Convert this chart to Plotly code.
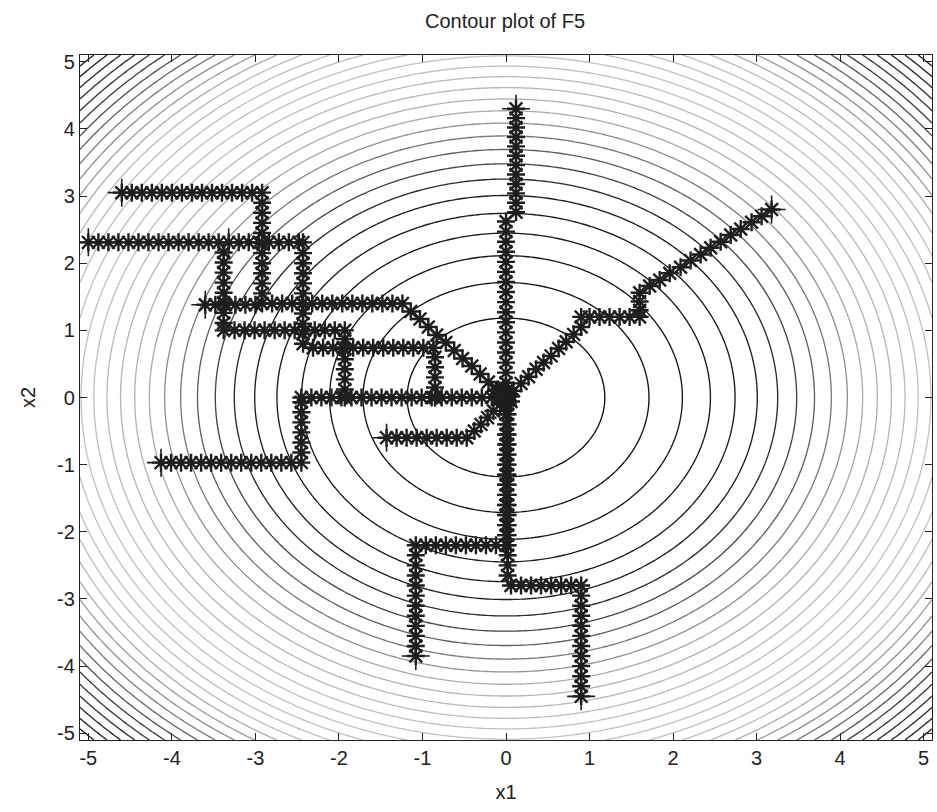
import numpy as np
import plotly.graph_objects as go

# ---- objective F5 sampled on the plotting grid ----
grid = np.linspace(-5.1, 5.1, 256)
X1, X2 = np.meshgrid(grid, grid)
F5 = X1 ** 2 + X2 ** 2

level_start = 1.4
level_step = 1.53
level_end = 51.0

# grey levels used for the contour lines (low -> high function value)
contour_greys = [
    [0.00, "#101010"],
    [0.18, "#202020"],
    [0.27, "#6a6a6a"],
    [0.36, "#afafaf"],
    [0.50, "#c2c2c2"],
    [0.64, "#bebebe"],
    [0.76, "#888888"],
    [0.86, "#444444"],
    [1.00, "#222222"],
]

# ---- search trajectories (marker positions) ----
path_a_x = [0.12] * 12 + [0.0] * 18
path_a_y = [4.3, 4.16, 4.02, 3.88, 3.74, 3.6, 3.46, 3.32, 3.18, 3.04, 2.9, 2.76,
            2.62, 2.47, 2.32, 2.17, 2.02, 1.87, 1.72, 1.57, 1.42, 1.27, 1.12, 0.97,
            0.82, 0.67, 0.52, 0.37, 0.22, 0.07]

path_b_x = [3.18, 3.06, 2.94, 2.81, 2.69, 2.57, 2.45, 2.33, 2.21, 2.09, 1.96, 1.84,
            1.72, 1.60, 1.60, 1.60, 1.60, 1.48, 1.36, 1.24, 1.12, 1.00, 0.90, 0.90,
            0.81, 0.72, 0.63, 0.54, 0.45, 0.36, 0.27, 0.18, 0.09]
path_b_y = [2.80, 2.70, 2.61, 2.51, 2.42, 2.32, 2.23, 2.13, 2.04, 1.94, 1.85, 1.75,
            1.66, 1.56, 1.43, 1.30, 1.20, 1.20, 1.20, 1.20, 1.20, 1.20, 1.20, 1.05,
            0.94, 0.83, 0.73, 0.62, 0.52, 0.42, 0.31, 0.21, 0.10]

path_c_x = [0.9] * 12 + [0.78, 0.66, 0.54, 0.42, 0.30, 0.18, 0.06] + [0.02] * 18
path_c_y = [-4.45, -4.3, -4.15, -4.0, -3.85, -3.7, -3.55, -3.4, -3.25, -3.1, -2.95, -2.8,
            -2.8, -2.8, -2.8, -2.8, -2.8, -2.8, -2.8,
            -2.65, -2.5, -2.35, -2.2, -2.05, -1.9, -1.75, -1.6, -1.45, -1.3, -1.15,
            -1.0, -0.85, -0.7, -0.55, -0.4, -0.25, -0.1]

path_d_x = [-1.08] * 12 + [-0.96, -0.84, -0.72, -0.6, -0.48, -0.36, -0.24, -0.12, 0.0] + [0.0] * 14
path_d_y = [-3.85, -3.7, -3.55, -3.4, -3.25, -3.1, -2.95, -2.8, -2.65, -2.5, -2.35, -2.2,
            -2.2, -2.2, -2.2, -2.2, -2.2, -2.2, -2.2, -2.2, -2.2,
            -2.05, -1.9, -1.75, -1.6, -1.45, -1.3, -1.15, -1.0, -0.85, -0.7, -0.55,
            -0.4, -0.25, -0.1]

path_e_x = [-1.43, -1.31, -1.19, -1.07, -0.95, -0.83, -0.71, -0.59, -0.47,
            -0.38, -0.30, -0.22, -0.15, -0.07]
path_e_y = [-0.6] * 9 + [-0.5, -0.4, -0.3, -0.2, -0.1]

path_f_x = [-4.13, -4.01, -3.89, -3.77, -3.65, -3.53, -3.41, -3.29, -3.17, -3.05, -2.93,
            -2.81, -2.69, -2.57, -2.45] + [-2.45] * 7 + [
            -2.33, -2.21, -2.09, -1.97, -1.85, -1.73, -1.61, -1.49, -1.37, -1.25, -1.13,
            -1.01, -0.89, -0.77, -0.65, -0.53, -0.41, -0.29, -0.17, -0.05]
path_f_y = [-0.97] * 15 + [-0.82, -0.67, -0.52, -0.37, -0.22, -0.07, 0.0] + [0.0] * 20

path_g_x = [-4.6, -4.48, -4.36, -4.24, -4.12, -4.0, -3.88, -3.76, -3.64, -3.52, -3.4,
            -3.28, -3.16, -3.04, -2.92] + [-2.92] * 11 + [
            -2.8, -2.68, -2.56, -2.44, -2.32, -2.2, -2.08, -1.96, -1.84, -1.72, -1.6,
            -1.48, -1.36, -1.24,
            -1.14, -1.03, -0.93, -0.83, -0.72, -0.62, -0.52, -0.41, -0.31, -0.21, -0.1]
path_g_y = [3.05] * 15 + [2.9, 2.75, 2.6, 2.45, 2.3, 2.15, 2.0, 1.85, 1.7, 1.55, 1.4] + [
            1.4] * 14 + [1.28, 1.17, 1.05, 0.93, 0.82, 0.7, 0.58, 0.47, 0.35, 0.23, 0.12]

path_h_x = [-5.0, -4.88, -4.76, -4.64, -4.52, -4.4, -4.28, -4.16, -4.04, -3.92, -3.8,
            -3.68, -3.56, -3.44] + [-3.38] * 9 + [
            -3.25, -3.13, -3.01, -2.89, -2.77, -2.65, -2.53, -2.41, -2.29, -2.17, -2.05,
            -1.93] + [-1.93] * 7
path_h_y = [2.31] * 14 + [2.16, 2.01, 1.86, 1.71, 1.56, 1.41, 1.26, 1.11, 1.0] + [
            1.0] * 12 + [0.87, 0.72, 0.57, 0.42, 0.27, 0.12, 0.0]

path_i_x = [-3.6, -3.48, -3.36, -3.24, -3.12, -3.0]
path_i_y = [1.38] * 6

path_j_x = [-3.32, -3.2, -3.08, -2.96, -2.84, -2.72, -2.6, -2.48, -2.43] + [-2.43] * 10 + [
            -2.31, -2.19, -2.07, -1.95, -1.83, -1.71, -1.59, -1.47, -1.35, -1.23, -1.11,
            -0.99, -0.87] + [-0.85] * 5
path_j_y = [2.31] * 9 + [2.15, 2.0, 1.85, 1.7, 1.55, 1.4, 1.25, 1.1, 0.95, 0.8] + [
            0.74] * 13 + [0.6, 0.45, 0.3, 0.15, 0.0]

# final iterates gathered around the minimum
final_x = [0.0, 0.04, -0.04, 0.06, -0.08, -0.12, 0.02, -0.03, 0.05, -0.1, 0.0, -0.06]
final_y = [0.0, 0.05, -0.04, -0.06, 0.06, 0.1, 0.12, 0.15, 0.02, -0.02, -0.12, 0.02]

paths = [
    (path_a_x, path_a_y), (path_b_x, path_b_y), (path_c_x, path_c_y),
    (path_d_x, path_d_y), (path_e_x, path_e_y), (path_f_x, path_f_y),
    (path_g_x, path_g_y), (path_h_x, path_h_y), (path_i_x, path_i_y),
    (path_j_x, path_j_y),
]

tick_vals = [-5, -4, -3, -2, -1, 0, 1, 2, 3, 4, 5]
tick_text = ["-5", "-4", "-3", "-2", "-1", "0", "1", "2", "3", "4", "5"]

ink = "#1e1e1e"
font_family = "Liberation Sans, Arial, sans-serif"

fig = go.Figure()

fig.add_trace(go.Contour(
    x=grid, y=grid, z=F5,
    contours=dict(coloring="lines", start=level_start, end=level_end, size=level_step),
    colorscale=contour_greys, zmin=0, zmax=50, zauto=False,
    line=dict(width=1.35, smoothing=0),
    showscale=False, hoverinfo="skip",
))

for px, py in paths:
    fig.add_trace(go.Scatter(
        x=px, y=py, mode="markers",
        marker=dict(symbol="asterisk-open", size=15, color=ink,
                    line=dict(width=2.4, color=ink)),
        showlegend=False, hoverinfo="skip",
    ))
    # starting point of each run
    fig.add_trace(go.Scatter(
        x=[px[0]], y=[py[0]], mode="markers",
        marker=dict(symbol="cross-thin-open", size=20, color=ink,
                    line=dict(width=1.6, color=ink)),
        showlegend=False, hoverinfo="skip",
    ))

fig.add_trace(go.Scatter(
    x=final_x, y=final_y, mode="markers",
    marker=dict(symbol="asterisk-open", size=15, color=ink,
                line=dict(width=2.6, color=ink)),
    showlegend=False, hoverinfo="skip",
))

axis_common = dict(
    range=[-5.1, 5.1], tickmode="array", tickvals=tick_vals, ticktext=tick_text,
    ticks="inside", ticklen=7, tickwidth=1, tickcolor="#222",
    showline=True, linecolor="#222", linewidth=1.2, mirror="ticks",
    showgrid=False, zeroline=False,
    tickfont=dict(family=font_family, size=20, color="#222"),
)

fig.update_layout(
    width=937, height=812,
    margin=dict(l=80, r=5, t=55, b=72),
    paper_bgcolor="white", plot_bgcolor="white",
    title=dict(text="Contour plot of F5", x=0.539, xanchor="center",
               y=1 - 21 / 812, yanchor="middle", yref="container",
               font=dict(family=font_family, size=20, color="#222")),
    xaxis=dict(axis_common, title=dict(text="x1", standoff=16,
                                       font=dict(family=font_family, size=20, color="#222"))),
    yaxis=dict(axis_common, title=dict(text="x2", standoff=16,
                                       font=dict(family=font_family, size=20, color="#222"))),
)

fig.write_html("out.html")
